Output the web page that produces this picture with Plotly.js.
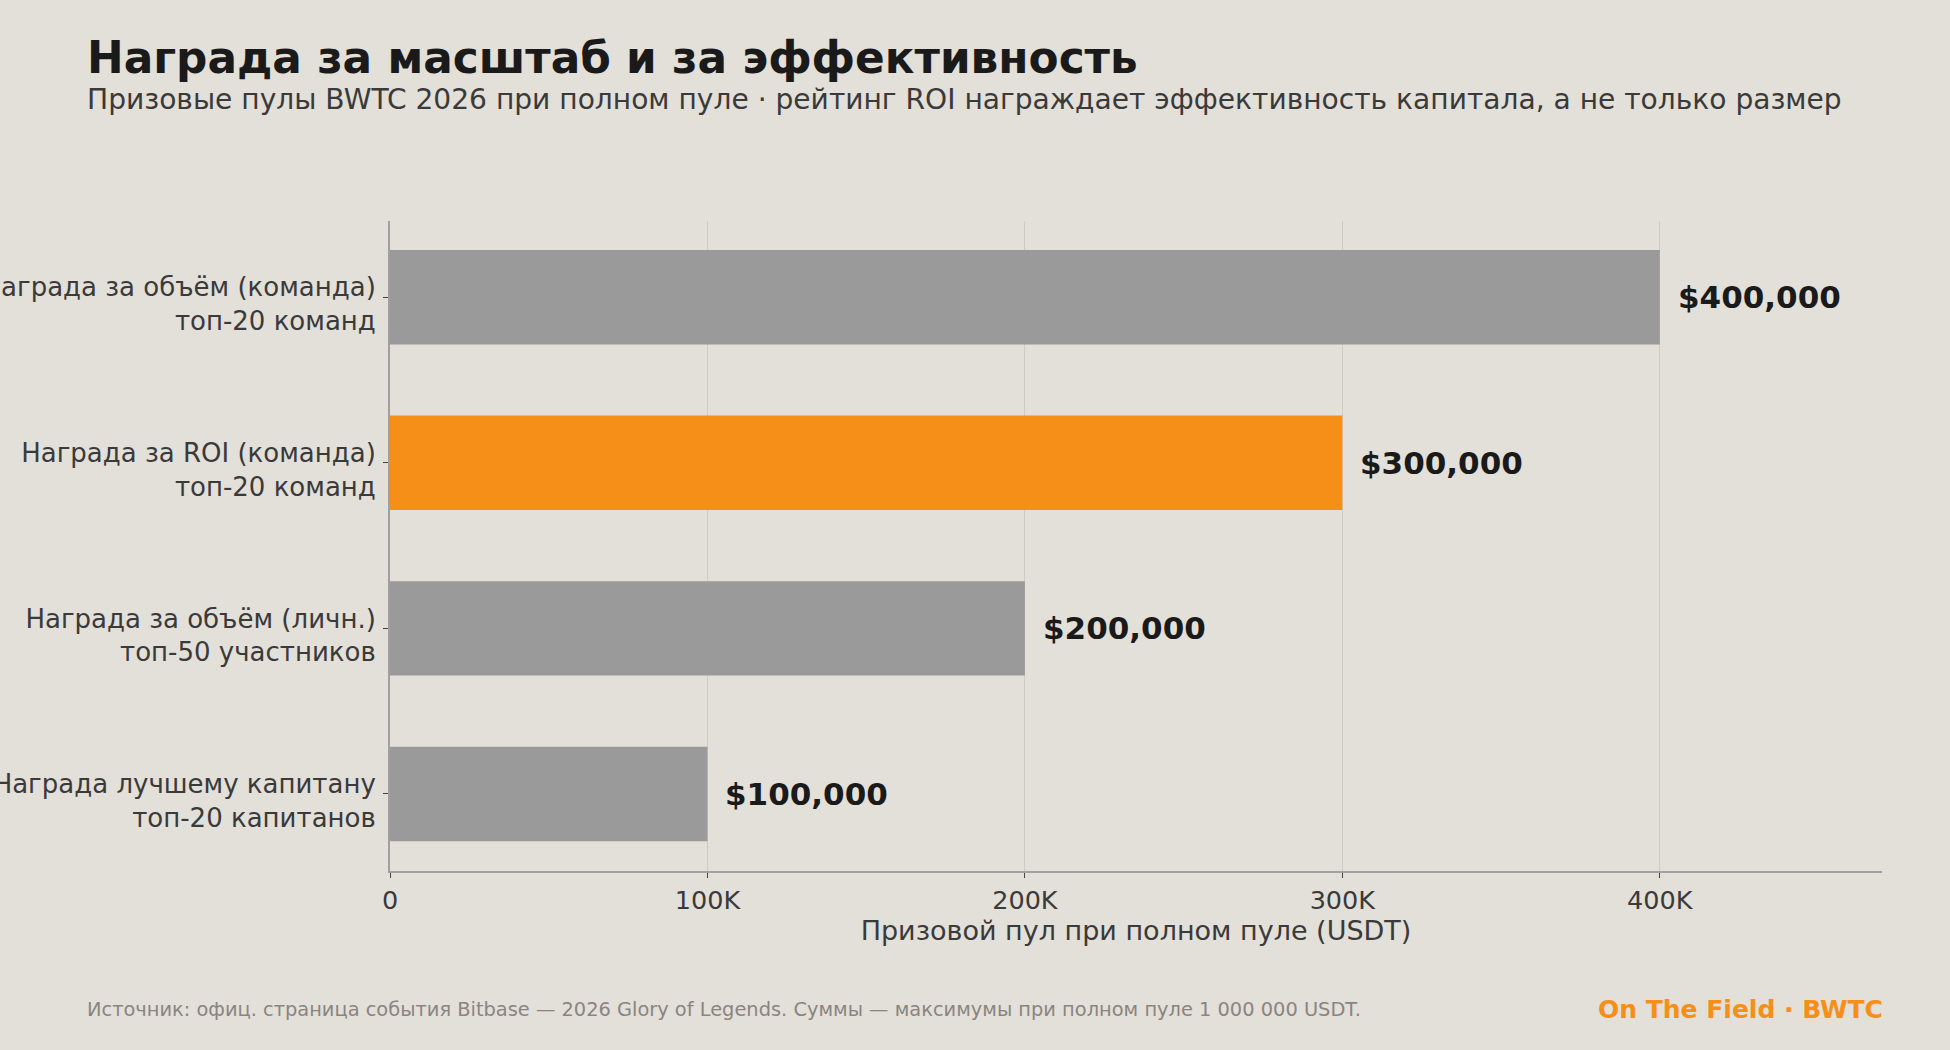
<!DOCTYPE html>
<html>
<head>
<meta charset="utf-8">
<script src="https://cdn.plot.ly/plotly-3.0.1.min.js"></script>
<style>html,body{margin:0;padding:0;background:#e3dfd9;}</style>
</head>
<body>
<div id="chart" style="width:1950px;height:1050px;"></div>
<script>
const categories = [
  "Награда лучшему капитану<br>топ-20 капитанов",
  "Награда за объём (личн.)<br>топ-50 участников",
  "Награда за ROI (команда)<br>топ-20 команд",
  "Награда за объём (команда)<br>топ-20 команд"
];
const values = [100000, 200000, 300000, 400000];
const valueLabels = ["$100,000", "$200,000", "$300,000", "$400,000"];
const barColors = ["#9a9a9a", "#9a9a9a", "#f58f17", "#9a9a9a"];
const tickVals = [0, 100000, 200000, 300000, 400000];
const tickText = ["0", "100K", "200K", "300K", "400K"];

const font = "DejaVu Sans, sans-serif";

const trace = {
  type: "bar",
  orientation: "h",
  x: values,
  y: categories,
  marker: {color: barColors, line: {width: 0}},
  hoverinfo: "none"
};

const annotations = values.map((v, i) => ({
  x: v, y: categories[i], xref: "x", yref: "y",
  text: valueLabels[i], showarrow: false,
  xanchor: "left", yanchor: "middle", xshift: 16,
  font: {family: font, size: 31, color: "#1a1a1a", weight: "bold"}
}));

annotations.push(
  {xref: "paper", yref: "paper", x: -0.2042, y: 1.2508, xanchor: "left", yanchor: "middle", showarrow: false,
   text: "<b>Награда за масштаб и за эффективность</b>", font: {family: font, size: 43.8, color: "#1a1a1a"}},
  {xref: "paper", yref: "paper", x: -0.2042, y: 1.187, xanchor: "left", yanchor: "middle", showarrow: false,
   text: "Призовые пулы BWTC 2026 при полном пуле · рейтинг ROI награждает эффективность капитала, а не только размер",
   font: {family: font, size: 28.1, color: "#3a3a3a"}},
  {xref: "paper", yref: "paper", x: -0.2042, y: -0.2138, xanchor: "left", yanchor: "middle", showarrow: false,
   text: "Источник: офиц. страница события Bitbase — 2026 Glory of Legends. Суммы — максимумы при полном пуле 1 000 000 USDT.",
   font: {family: font, size: 19.4, color: "#8a8580"}},
  {xref: "paper", yref: "paper", x: 1, y: -0.2138, xanchor: "right", yanchor: "middle", showarrow: false, xshift: 2.5,
   text: "<b>On The Field · BWTC</b>", font: {family: font, size: 25, color: "#f58f17"}}
);

const layout = {
  width: 1950, height: 1050,
  paper_bgcolor: "#e3dfd9", plot_bgcolor: "#e3dfd9",
  margin: {l: 390, r: 68, t: 221, b: 179},
  showlegend: false,
  bargap: 0.43,
  font: {family: font, color: "#3a3a3a"},
  xaxis: {
    range: [0, 470000],
    tickvals: tickVals, ticktext: tickText,
    showgrid: true, gridcolor: "#cfcbc5", gridwidth: 1,
    zeroline: false,
    showline: true, linecolor: "#a0a0a0", linewidth: 2,
    ticks: "outside", ticklen: 5, tickcolor: "#444", tickwidth: 1,
    tickfont: {family: font, size: 25.5, color: "#3a3a3a"},
    title: {text: "Призовой пул при полном пуле (USDT)", font: {family: font, size: 27, color: "#3a3a3a"}, standoff: 8}
  },
  yaxis: {
    range: [-0.465, 3.46],
    showgrid: false, zeroline: false,
    showline: true, linecolor: "#a0a0a0", linewidth: 2,
    ticks: "outside", ticklen: 5, tickcolor: "#444", tickwidth: 1,
    tickfont: {family: font, size: 26, color: "#3a3a3a"},
    ticklabelstandoff: 2,
    ticklabelshift: 7
  },
  annotations: annotations
};

Plotly.newPlot("chart", [trace], layout, {displayModeBar: false, staticPlot: true});
</script>
</body>
</html>
